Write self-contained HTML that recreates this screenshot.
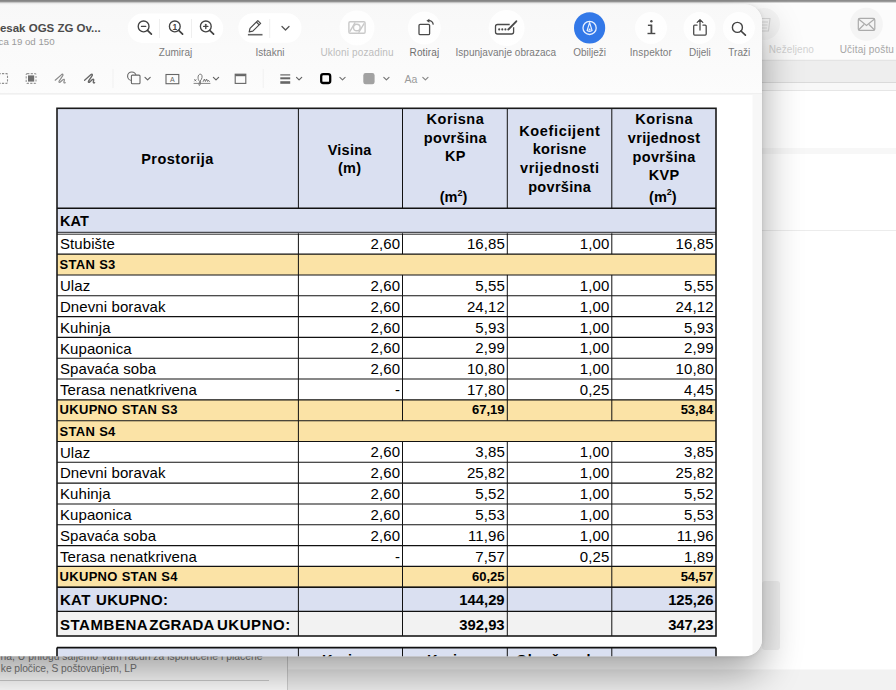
<!DOCTYPE html>
<html><head><meta charset="utf-8"><title>Preview</title>
<style>html,body{margin:0;padding:0;width:896px;height:690px;overflow:hidden;background:#fbfbfb}
svg{display:block} text{font-family:"Liberation Sans",Arial,sans-serif}</style></head>
<body><svg width="896" height="690" viewBox="0 0 896 690" font-family="Liberation Sans, Arial, sans-serif">
<rect x="0" y="0" width="896" height="690" fill="#ffffff"/>
<rect x="700" y="0" width="196" height="60" fill="#fcfcfc"/>
<rect x="700" y="60" width="196" height="22.5" fill="#eeeeee"/>
<line x1="700" y1="60.3" x2="896" y2="60.3" stroke="#e2e2e2" stroke-width="1"/>
<line x1="700" y1="82.5" x2="896" y2="82.5" stroke="#dadada" stroke-width="1"/>
<rect x="700" y="83" width="196" height="7.5" fill="#f8f8f8"/>
<line x1="700" y1="90.5" x2="896" y2="90.5" stroke="#e6e6e6" stroke-width="1"/>
<rect x="700" y="148" width="196" height="6" fill="#f7f7f7"/>
<line x1="700" y1="230.5" x2="896" y2="230.5" stroke="#ececec" stroke-width="1"/>
<circle cx="866.4" cy="24.3" r="16.5" fill="#f4f4f4"/>
<g fill="none" stroke="#ababab" stroke-width="1.2"><rect x="858.3" y="18.4" width="16.5" height="12" rx="1.5"/><path d="M858.5,19 L866.5,25.5 L874.5,19 M858.5,30 L864,24.5 M874.5,30 L869,24.5"/></g>
<text x="866.80" y="53.00" font-size="10" fill="#a6a6a6" text-anchor="middle" textLength="54.20" lengthAdjust="spacing">Učitaj poštu</text>
<text x="791.30" y="53.00" font-size="10" fill="#d2d2d2" text-anchor="middle" textLength="45.20" lengthAdjust="spacing">Neželjeno</text>
<circle cx="764" cy="24" r="16" fill="#f5f5f5"/>
<g fill="none" stroke="#d6d6d6" stroke-width="1.1"><path d="M758,18.5 L770,18.5 L768.5,31 L759.5,31 Z"/><path d="M760,22 L768,22 M760.5,25 L767.5,25 M761,28 L767,28"/></g>
<rect x="0" y="640" width="896" height="50" fill="#ffffff"/>
<rect x="288" y="669.5" width="608" height="20.5" fill="#f2f2f2"/>
<rect x="762" y="581" width="18" height="69" rx="3" fill="#f1f1f1"/>
<text x="0.50" y="660.00" font-size="10.3" fill="#7c7c7c" textLength="262.00" lengthAdjust="spacing">na, U prilogu šaljemo Vam račun za isporučene i plaćene</text>
<text x="0.80" y="672.20" font-size="10.3" fill="#7c7c7c" textLength="136.00" lengthAdjust="spacing">ke pločice, S poštovanjem, LP</text>
<line x1="0" y1="680.5" x2="269" y2="680.5" stroke="#cfcfcf" stroke-width="1"/>
<line x1="287.5" y1="640" x2="287.5" y2="690" stroke="#d2d2d2" stroke-width="1"/>
<rect x="0" y="0" width="896" height="1.9" fill="#8c8c8c"/>
<rect x="0" y="1.9" width="896" height="0.8" fill="#c4c4c4"/>
<defs><filter id="sh" x="-20%" y="-20%" width="140%" height="160%"><feGaussianBlur stdDeviation="20"/></filter><filter id="sh2" x="-20%" y="-20%" width="140%" height="160%"><feGaussianBlur stdDeviation="2"/></filter><clipPath id="wclip"><path d="M-40,4.5 L745.0,4.5 A17.0,17.0 0 0 1 762.0,21.5 L762.0,639.2 A17.0,17.0 0 0 1 745.0,656.2 L-40,656.2 Z"/></clipPath><linearGradient id="tbg" x1="0" x2="0" y1="0" y2="1"><stop offset="0" stop-color="#f8f8f8"/><stop offset="0.5" stop-color="#fafafa"/><stop offset="1" stop-color="#fcfcfc"/></linearGradient></defs>
<path d="M-40,4.5 L745.0,4.5 A17.0,17.0 0 0 1 762.0,21.5 L762.0,639.2 A17.0,17.0 0 0 1 745.0,656.2 L-40,656.2 Z" fill="#000" opacity="0.36" filter="url(#sh)" transform="translate(0,18)"/>
<path d="M-40,4.5 L745.0,4.5 A17.0,17.0 0 0 1 762.0,21.5 L762.0,639.2 A17.0,17.0 0 0 1 745.0,656.2 L-40,656.2 Z" fill="#000" opacity="0.10" filter="url(#sh2)" transform="translate(0,0.5)"/>
<path d="M-40,4.5 L745.0,4.5 A17.0,17.0 0 0 1 762.0,21.5 L762.0,639.2 A17.0,17.0 0 0 1 745.0,656.2 L-40,656.2 Z" fill="#fff"/>
<g clip-path="url(#wclip)">
<rect x="-40" y="0" width="810" height="93.5" fill="url(#tbg)"/>
<line x1="-40" y1="93.8" x2="770" y2="93.8" stroke="#ebebeb" stroke-width="1.2"/>
<rect x="752.5" y="94.4" width="12" height="570" fill="#f7f7f7"/>
<text x="100.70" y="31.80" font-size="11.5" font-weight="bold" fill="#4b4b4b" text-anchor="end">esak OGS ZG Ov...</text>
<text x="54.60" y="44.60" font-size="9.7" fill="#9b9b9b" text-anchor="end">ca 19 od 150</text>
<rect x="127.8" y="13.6" width="95.39999999999999" height="29.299999999999997" rx="14.649999999999999" fill="#fff"/>
<g stroke="#efefef" stroke-width="1"><line x1="159.5" y1="19" x2="159.5" y2="38"/><line x1="191.5" y1="19" x2="191.5" y2="38"/></g>
<g fill="none" stroke="#444" stroke-width="1.35" stroke-linecap="round"><circle cx="143.6" cy="26.4" r="5.4"/><line x1="147.5" y1="30.3" x2="151.4" y2="34.2" stroke-width="1.7"/><circle cx="174.8" cy="26.4" r="5.4"/><line x1="178.7" y1="30.3" x2="182.6" y2="34.2" stroke-width="1.7"/><circle cx="205.8" cy="26.4" r="5.4"/><line x1="209.7" y1="30.3" x2="213.6" y2="34.2" stroke-width="1.7"/><line x1="141.5" y1="26.4" x2="145.7" y2="26.4"/><line x1="203.7" y1="26.4" x2="207.9" y2="26.4"/><line x1="205.8" y1="24.3" x2="205.8" y2="28.5"/></g>
<text x="174.80" y="29.70" font-size="8.5" font-weight="bold" fill="#444" text-anchor="middle">1</text>
<text x="175.50" y="56.00" font-size="10" fill="#7b7b7b" text-anchor="middle">Zumiraj</text>
<rect x="238.3" y="13.3" width="63.19999999999999" height="29.400000000000002" rx="14.700000000000001" fill="#fff"/>
<line x1="269.7" y1="19" x2="269.7" y2="38" stroke="#efefef" stroke-width="1"/>
<g fill="none" stroke="#4a4a4a" stroke-width="1.2" stroke-linejoin="round"><path d="M249.2,31.8 L250,28.4 L257.8,20.6 L260.6,23.4 L252.8,31.2 Z M256.4,22 L259.2,24.8"/></g>
<rect x="247.9" y="33.9" width="14.6" height="1.6" fill="#666"/>
<path d="M282,26.5 L285.5,30 L289,26.5" fill="none" stroke="#555" stroke-width="1.3" stroke-linecap="round" stroke-linejoin="round"/>
<text x="270.00" y="56.00" font-size="10" fill="#7b7b7b" text-anchor="middle">Istakni</text>
<circle cx="357.0" cy="28" r="17.5" fill="#fff" opacity="0.85"/>
<circle cx="424.3" cy="28" r="16.5" fill="#fff" opacity="0.85"/>
<circle cx="506.6" cy="28" r="18.0" fill="#fff" opacity="0.85"/>
<circle cx="651.0" cy="28" r="16.0" fill="#fff" opacity="0.85"/>
<circle cx="699.5" cy="28" r="16.0" fill="#fff" opacity="0.85"/>
<circle cx="738.9" cy="28" r="16.0" fill="#fff" opacity="0.85"/>
<g fill="none" stroke="#c9c9c9" stroke-width="1.4"><rect x="348.9" y="21.7" width="16.2" height="11.5" rx="1.2"/><circle cx="356.8" cy="27.5" r="3.3"/><path d="M349.8,31.6 L355.2,22.4 M358.6,32.6 L364.2,23.4"/></g>
<text x="357.00" y="56.00" font-size="10" fill="#bdbdbd" text-anchor="middle" textLength="73.20" lengthAdjust="spacing">Ukloni pozadinu</text>
<g fill="none" stroke="#4a4a4a" stroke-width="1.3" stroke-linejoin="round"><rect x="419" y="24.3" width="10.6" height="10.4" rx="1.2"/><path d="M428.6,20.7 C430.9,20.5 432.8,22.1 433.3,24.7"/></g>
<path d="M426.4,20.7 L429.4,18.7 L429.4,22.7 Z" fill="#4a4a4a"/>
<text x="424.40" y="56.00" font-size="10" fill="#6f6f6f" text-anchor="middle" textLength="29.60" lengthAdjust="spacing">Rotiraj</text>
<g fill="none" stroke="#4a4a4a" stroke-width="1.3" stroke-linejoin="round"><path d="M509.7,24.5 L497.6,24.5 Q495.5,24.5 495.5,26.6 L495.5,31.9 Q495.5,34 497.6,34 L511.5,34 Q513.6,34 513.6,31.9 L513.6,27.3"/><path d="M508.3,29.5 L516.3,21.3" stroke-width="1.9" stroke-linecap="round"/></g>
<g fill="#4a4a4a"><circle cx="499.2" cy="29.4" r="1.05"/><circle cx="502.3" cy="29.4" r="1.05"/><circle cx="505.4" cy="29.4" r="1.05"/></g>
<text x="505.80" y="56.00" font-size="10" fill="#7b7b7b" text-anchor="middle" textLength="100.70" lengthAdjust="spacing">Ispunjavanje obrazaca</text>
<circle cx="589.6" cy="27.9" r="15.6" fill="#3278e8"/>
<circle cx="589.6" cy="27.9" r="6.6" fill="none" stroke="#e8f0ff" stroke-width="1.3"/>
<path d="M589.6,22.6 L592.1,30.6 Q589.6,32.2 587.1,30.6 Z" fill="none" stroke="#e8f0ff" stroke-width="1.2" stroke-linejoin="round"/>
<circle cx="589.6" cy="29.6" r="1.0" fill="#e8f0ff"/>
<text x="589.60" y="56.00" font-size="10" fill="#7b7b7b" text-anchor="middle">Obilježi</text>
<g fill="#4a4a4a"><circle cx="651.4" cy="21.3" r="1.2"/><rect x="650.5" y="24.6" width="1.8" height="9.4"/><rect x="647.9" y="24.6" width="3.6" height="1.4"/><rect x="647.5" y="32.8" width="7.8" height="1.4"/></g>
<text x="650.80" y="56.00" font-size="10" fill="#7b7b7b" text-anchor="middle" textLength="42.20" lengthAdjust="spacing">Inspektor</text>
<g fill="none" stroke="#4a4a4a" stroke-width="1.3" stroke-linecap="round" stroke-linejoin="round"><path d="M697,25.2 L694.6,25.2 Q693.7,25.2 693.7,26.2 L693.7,34.1 Q693.7,35.1 694.7,35.1 L705.2,35.1 Q706.2,35.1 706.2,34.1 L706.2,26.2 Q706.2,25.2 705.2,25.2 L703,25.2"/><path d="M700,30 L700,19.6 M697.2,22.4 L700,19.6 L702.8,22.4"/></g>
<text x="699.90" y="56.00" font-size="10" fill="#7b7b7b" text-anchor="middle">Dijeli</text>
<g fill="none" stroke="#444" stroke-width="1.4" stroke-linecap="round"><circle cx="737.4" cy="27.4" r="5.0"/><line x1="741" y1="31" x2="745.4" y2="35.2" stroke-width="1.7"/></g>
<text x="739.30" y="56.00" font-size="10" fill="#7b7b7b" text-anchor="middle">Traži</text>
<rect x="-2.5" y="73.6" width="10" height="9.8" rx="1" fill="none" stroke="#8e8e8e" stroke-width="1.1" stroke-dasharray="2.2,1.3"/>
<rect x="26.2" y="73.6" width="9.8" height="9.8" rx="1" fill="none" stroke="#999" stroke-width="1.1" stroke-dasharray="2.2,1.3"/>
<rect x="28" y="75.4" width="6.2" height="6.2" fill="#6e6e6e"/>
<path d="M55.2,80.2 L61.6,74.6 C62.9,73.6 63.6,74.6 62.3,76.4 L59.2,81 C58.4,82.4 59.6,82.9 60.6,81.8 L63.0,79.6 C63.9,78.9 64.6,79.4 64.3,80.4 L63.9,82 C63.8,83 64.6,83.3 65.2,82.6" fill="none" stroke="#8a8a8a" stroke-width="1.2" stroke-linecap="round" stroke-linejoin="round"/>
<path d="M84.6,80.2 L91.0,74.6 C92.3,73.6 93.0,74.6 91.7,76.4 L88.6,81 C87.8,82.4 89.0,82.9 90.0,81.8 L92.4,79.6 C93.3,78.9 94.0,79.4 93.7,80.4 L93.3,82 C93.2,83 94.0,83.3 94.6,82.6" fill="none" stroke="#686868" stroke-width="1.35" stroke-linecap="round" stroke-linejoin="round"/>
<line x1="113" y1="69" x2="113" y2="88" stroke="#f1f1f1" stroke-width="1"/>
<g fill="none" stroke="#666" stroke-width="1.1"><circle cx="131.8" cy="76.2" r="4.2"/></g>
<rect x="131.4" y="75.1" width="8.6" height="8.6" rx="1" fill="#fbfbfb" stroke="#666" stroke-width="1.1"/>
<path d="M145,77.3 L147.6,79.89999999999999 L150.2,77.3" fill="none" stroke="#666" stroke-width="1.2" stroke-linecap="round" stroke-linejoin="round"/>
<rect x="166" y="74.5" width="12.8" height="9.2" fill="none" stroke="#666" stroke-width="1.1"/>
<text x="172.40" y="82.00" font-size="7" fill="#666" text-anchor="middle">A</text>
<g fill="none" stroke="#6a6a6a" stroke-width="0.9" stroke-linecap="round"><path d="M194.6,79.6 L196,81 M196,79.6 L194.6,81"/><path d="M199.4,81.2 C197.2,79.5 197.6,74.2 200.3,74.2 C202.8,74.2 202.6,78.6 200.2,81 C199.2,82.3 198.6,84.5 199.2,85.4 C199.9,86 200.6,83.5 200.6,81.5"/><path d="M203.2,81.5 L204.4,79 L205.4,81.5 L206.6,79 L207.6,81.5 L208.4,80.2 L209.4,81.5"/></g>
<line x1="193.6" y1="83.4" x2="210.4" y2="83.4" stroke="#777" stroke-width="0.9"/>
<path d="M213.4,77.3 L216.0,79.89999999999999 L218.6,77.3" fill="none" stroke="#666" stroke-width="1.2" stroke-linecap="round" stroke-linejoin="round"/>
<rect x="235.2" y="74.2" width="10.6" height="9.2" fill="none" stroke="#666" stroke-width="1.1"/>
<rect x="235.2" y="74.2" width="10.6" height="2" fill="#666"/>
<line x1="263.2" y1="69" x2="263.2" y2="88" stroke="#f1f1f1" stroke-width="1"/>
<rect x="280.3" y="74.3" width="9.9" height="1.2" fill="#666"/>
<rect x="280.3" y="77.3" width="9.9" height="2" fill="#666"/>
<rect x="280.3" y="81.2" width="9.9" height="2.6" fill="#666"/>
<path d="M296.5,77.3 L299.1,79.89999999999999 L301.7,77.3" fill="none" stroke="#666" stroke-width="1.2" stroke-linecap="round" stroke-linejoin="round"/>
<rect x="321.2" y="74.2" width="9" height="8.8" rx="2" fill="none" stroke="#000" stroke-width="2.3"/>
<path d="M339.9,77.3 L342.5,79.89999999999999 L345.09999999999997,77.3" fill="none" stroke="#777" stroke-width="1.2" stroke-linecap="round" stroke-linejoin="round"/>
<rect x="363.3" y="73.1" width="11.3" height="11.2" rx="2.3" fill="#a2a2a2"/>
<path d="M383.8,77.3 L386.40000000000003,79.89999999999999 L389.0,77.3" fill="none" stroke="#777" stroke-width="1.2" stroke-linecap="round" stroke-linejoin="round"/>
<text x="404.50" y="83.00" font-size="10.5" fill="#9a9a9a">Aa</text>
<path d="M422.8,77.3 L425.40000000000003,79.89999999999999 L428.0,77.3" fill="none" stroke="#888" stroke-width="1.2" stroke-linecap="round" stroke-linejoin="round"/>
</g>
<g clip-path="url(#wclip)">
<rect x="57.0" y="108.3" width="659.0" height="125.00000000000001" fill="#dae0f1"/>
<rect x="57.0" y="233.30" width="659.0" height="20.82" fill="#fff"/>
<rect x="57.0" y="254.12" width="659.0" height="20.82" fill="#fbe3a6"/>
<rect x="57.0" y="274.94" width="659.0" height="20.82" fill="#fff"/>
<rect x="57.0" y="295.76" width="659.0" height="20.82" fill="#fff"/>
<rect x="57.0" y="316.58" width="659.0" height="20.82" fill="#fff"/>
<rect x="57.0" y="337.40" width="659.0" height="20.82" fill="#fff"/>
<rect x="57.0" y="358.22" width="659.0" height="20.82" fill="#fff"/>
<rect x="57.0" y="379.04" width="659.0" height="20.82" fill="#fff"/>
<rect x="57.0" y="399.86" width="659.0" height="20.82" fill="#fbe3a6"/>
<rect x="57.0" y="420.68" width="659.0" height="20.82" fill="#fbe3a6"/>
<rect x="57.0" y="441.50" width="659.0" height="20.82" fill="#fff"/>
<rect x="57.0" y="462.32" width="659.0" height="20.82" fill="#fff"/>
<rect x="57.0" y="483.14" width="659.0" height="20.82" fill="#fff"/>
<rect x="57.0" y="503.96" width="659.0" height="20.82" fill="#fff"/>
<rect x="57.0" y="524.78" width="659.0" height="20.82" fill="#fff"/>
<rect x="57.0" y="545.60" width="659.0" height="20.82" fill="#fff"/>
<rect x="57.0" y="566.42" width="659.0" height="20.82" fill="#fbe3a6"/>
<rect x="57.0" y="587.24" width="659.0" height="24.16" fill="#dae0f1"/>
<rect x="57.0" y="611.40" width="659.0" height="24.60" fill="#f2f2f2"/>
<line x1="57.0" y1="208.30" x2="716.0" y2="208.30" stroke="#111" stroke-width="1.6"/>
<line x1="57.0" y1="232.30" x2="716.0" y2="232.30" stroke="#111" stroke-width="0.9"/>
<line x1="57.0" y1="234.20" x2="716.0" y2="234.20" stroke="#111" stroke-width="0.9"/>
<line x1="57.0" y1="254.12" x2="716.0" y2="254.12" stroke="#111" stroke-width="1.1"/>
<line x1="57.0" y1="274.94" x2="716.0" y2="274.94" stroke="#111" stroke-width="1.1"/>
<line x1="57.0" y1="295.76" x2="716.0" y2="295.76" stroke="#111" stroke-width="1.1"/>
<line x1="57.0" y1="316.58" x2="716.0" y2="316.58" stroke="#111" stroke-width="1.1"/>
<line x1="57.0" y1="337.40" x2="716.0" y2="337.40" stroke="#111" stroke-width="1.1"/>
<line x1="57.0" y1="358.22" x2="716.0" y2="358.22" stroke="#111" stroke-width="1.1"/>
<line x1="57.0" y1="379.04" x2="716.0" y2="379.04" stroke="#111" stroke-width="1.1"/>
<line x1="57.0" y1="399.86" x2="716.0" y2="399.86" stroke="#111" stroke-width="1.1"/>
<line x1="57.0" y1="420.68" x2="716.0" y2="420.68" stroke="#111" stroke-width="1.1"/>
<line x1="57.0" y1="441.50" x2="716.0" y2="441.50" stroke="#111" stroke-width="1.1"/>
<line x1="57.0" y1="462.32" x2="716.0" y2="462.32" stroke="#111" stroke-width="1.1"/>
<line x1="57.0" y1="483.14" x2="716.0" y2="483.14" stroke="#111" stroke-width="1.1"/>
<line x1="57.0" y1="503.96" x2="716.0" y2="503.96" stroke="#111" stroke-width="1.1"/>
<line x1="57.0" y1="524.78" x2="716.0" y2="524.78" stroke="#111" stroke-width="1.1"/>
<line x1="57.0" y1="545.60" x2="716.0" y2="545.60" stroke="#111" stroke-width="1.1"/>
<line x1="57.0" y1="566.42" x2="716.0" y2="566.42" stroke="#111" stroke-width="1.1"/>
<line x1="57.0" y1="587.24" x2="716.0" y2="587.24" stroke="#111" stroke-width="1.1"/>
<line x1="57.0" y1="587.24" x2="716.0" y2="587.24" stroke="#111" stroke-width="1.3"/>
<line x1="57.0" y1="611.40" x2="716.0" y2="611.40" stroke="#111" stroke-width="1.3"/>
<line x1="298.40" y1="108.30" x2="298.40" y2="208.30" stroke="#111" stroke-width="1.0"/>
<line x1="402.50" y1="108.30" x2="402.50" y2="208.30" stroke="#111" stroke-width="1.0"/>
<line x1="507.30" y1="108.30" x2="507.30" y2="208.30" stroke="#111" stroke-width="1.0"/>
<line x1="611.80" y1="108.30" x2="611.80" y2="208.30" stroke="#111" stroke-width="1.0"/>
<line x1="298.40" y1="233.30" x2="298.40" y2="254.12" stroke="#111" stroke-width="1.0"/>
<line x1="402.50" y1="233.30" x2="402.50" y2="254.12" stroke="#111" stroke-width="1.0"/>
<line x1="507.30" y1="233.30" x2="507.30" y2="254.12" stroke="#111" stroke-width="1.0"/>
<line x1="611.80" y1="233.30" x2="611.80" y2="254.12" stroke="#111" stroke-width="1.0"/>
<line x1="298.40" y1="254.12" x2="298.40" y2="274.94" stroke="#111" stroke-width="1.0"/>
<line x1="298.40" y1="274.94" x2="298.40" y2="295.76" stroke="#111" stroke-width="1.0"/>
<line x1="402.50" y1="274.94" x2="402.50" y2="295.76" stroke="#111" stroke-width="1.0"/>
<line x1="507.30" y1="274.94" x2="507.30" y2="295.76" stroke="#111" stroke-width="1.0"/>
<line x1="611.80" y1="274.94" x2="611.80" y2="295.76" stroke="#111" stroke-width="1.0"/>
<line x1="298.40" y1="295.76" x2="298.40" y2="316.58" stroke="#111" stroke-width="1.0"/>
<line x1="402.50" y1="295.76" x2="402.50" y2="316.58" stroke="#111" stroke-width="1.0"/>
<line x1="507.30" y1="295.76" x2="507.30" y2="316.58" stroke="#111" stroke-width="1.0"/>
<line x1="611.80" y1="295.76" x2="611.80" y2="316.58" stroke="#111" stroke-width="1.0"/>
<line x1="298.40" y1="316.58" x2="298.40" y2="337.40" stroke="#111" stroke-width="1.0"/>
<line x1="402.50" y1="316.58" x2="402.50" y2="337.40" stroke="#111" stroke-width="1.0"/>
<line x1="507.30" y1="316.58" x2="507.30" y2="337.40" stroke="#111" stroke-width="1.0"/>
<line x1="611.80" y1="316.58" x2="611.80" y2="337.40" stroke="#111" stroke-width="1.0"/>
<line x1="298.40" y1="337.40" x2="298.40" y2="358.22" stroke="#111" stroke-width="1.0"/>
<line x1="402.50" y1="337.40" x2="402.50" y2="358.22" stroke="#111" stroke-width="1.0"/>
<line x1="507.30" y1="337.40" x2="507.30" y2="358.22" stroke="#111" stroke-width="1.0"/>
<line x1="611.80" y1="337.40" x2="611.80" y2="358.22" stroke="#111" stroke-width="1.0"/>
<line x1="298.40" y1="358.22" x2="298.40" y2="379.04" stroke="#111" stroke-width="1.0"/>
<line x1="402.50" y1="358.22" x2="402.50" y2="379.04" stroke="#111" stroke-width="1.0"/>
<line x1="507.30" y1="358.22" x2="507.30" y2="379.04" stroke="#111" stroke-width="1.0"/>
<line x1="611.80" y1="358.22" x2="611.80" y2="379.04" stroke="#111" stroke-width="1.0"/>
<line x1="298.40" y1="379.04" x2="298.40" y2="399.86" stroke="#111" stroke-width="1.0"/>
<line x1="402.50" y1="379.04" x2="402.50" y2="399.86" stroke="#111" stroke-width="1.0"/>
<line x1="507.30" y1="379.04" x2="507.30" y2="399.86" stroke="#111" stroke-width="1.0"/>
<line x1="611.80" y1="379.04" x2="611.80" y2="399.86" stroke="#111" stroke-width="1.0"/>
<line x1="298.40" y1="399.86" x2="298.40" y2="420.68" stroke="#111" stroke-width="1.0"/>
<line x1="402.50" y1="399.86" x2="402.50" y2="420.68" stroke="#111" stroke-width="1.0"/>
<line x1="507.30" y1="399.86" x2="507.30" y2="420.68" stroke="#111" stroke-width="1.0"/>
<line x1="611.80" y1="399.86" x2="611.80" y2="420.68" stroke="#111" stroke-width="1.0"/>
<line x1="298.40" y1="420.68" x2="298.40" y2="441.50" stroke="#111" stroke-width="1.0"/>
<line x1="298.40" y1="441.50" x2="298.40" y2="462.32" stroke="#111" stroke-width="1.0"/>
<line x1="402.50" y1="441.50" x2="402.50" y2="462.32" stroke="#111" stroke-width="1.0"/>
<line x1="507.30" y1="441.50" x2="507.30" y2="462.32" stroke="#111" stroke-width="1.0"/>
<line x1="611.80" y1="441.50" x2="611.80" y2="462.32" stroke="#111" stroke-width="1.0"/>
<line x1="298.40" y1="462.32" x2="298.40" y2="483.14" stroke="#111" stroke-width="1.0"/>
<line x1="402.50" y1="462.32" x2="402.50" y2="483.14" stroke="#111" stroke-width="1.0"/>
<line x1="507.30" y1="462.32" x2="507.30" y2="483.14" stroke="#111" stroke-width="1.0"/>
<line x1="611.80" y1="462.32" x2="611.80" y2="483.14" stroke="#111" stroke-width="1.0"/>
<line x1="298.40" y1="483.14" x2="298.40" y2="503.96" stroke="#111" stroke-width="1.0"/>
<line x1="402.50" y1="483.14" x2="402.50" y2="503.96" stroke="#111" stroke-width="1.0"/>
<line x1="507.30" y1="483.14" x2="507.30" y2="503.96" stroke="#111" stroke-width="1.0"/>
<line x1="611.80" y1="483.14" x2="611.80" y2="503.96" stroke="#111" stroke-width="1.0"/>
<line x1="298.40" y1="503.96" x2="298.40" y2="524.78" stroke="#111" stroke-width="1.0"/>
<line x1="402.50" y1="503.96" x2="402.50" y2="524.78" stroke="#111" stroke-width="1.0"/>
<line x1="507.30" y1="503.96" x2="507.30" y2="524.78" stroke="#111" stroke-width="1.0"/>
<line x1="611.80" y1="503.96" x2="611.80" y2="524.78" stroke="#111" stroke-width="1.0"/>
<line x1="298.40" y1="524.78" x2="298.40" y2="545.60" stroke="#111" stroke-width="1.0"/>
<line x1="402.50" y1="524.78" x2="402.50" y2="545.60" stroke="#111" stroke-width="1.0"/>
<line x1="507.30" y1="524.78" x2="507.30" y2="545.60" stroke="#111" stroke-width="1.0"/>
<line x1="611.80" y1="524.78" x2="611.80" y2="545.60" stroke="#111" stroke-width="1.0"/>
<line x1="298.40" y1="545.60" x2="298.40" y2="566.42" stroke="#111" stroke-width="1.0"/>
<line x1="402.50" y1="545.60" x2="402.50" y2="566.42" stroke="#111" stroke-width="1.0"/>
<line x1="507.30" y1="545.60" x2="507.30" y2="566.42" stroke="#111" stroke-width="1.0"/>
<line x1="611.80" y1="545.60" x2="611.80" y2="566.42" stroke="#111" stroke-width="1.0"/>
<line x1="298.40" y1="566.42" x2="298.40" y2="587.24" stroke="#111" stroke-width="1.0"/>
<line x1="402.50" y1="566.42" x2="402.50" y2="587.24" stroke="#111" stroke-width="1.0"/>
<line x1="507.30" y1="566.42" x2="507.30" y2="587.24" stroke="#111" stroke-width="1.0"/>
<line x1="611.80" y1="566.42" x2="611.80" y2="587.24" stroke="#111" stroke-width="1.0"/>
<line x1="298.40" y1="587.24" x2="298.40" y2="636.00" stroke="#111" stroke-width="1.0"/>
<line x1="402.50" y1="587.24" x2="402.50" y2="636.00" stroke="#111" stroke-width="1.0"/>
<line x1="507.30" y1="587.24" x2="507.30" y2="636.00" stroke="#111" stroke-width="1.0"/>
<line x1="611.80" y1="587.24" x2="611.80" y2="636.00" stroke="#111" stroke-width="1.0"/>
<rect x="57.0" y="108.3" width="659.0" height="527.7" fill="none" stroke="#1a1a1a" stroke-width="1.6"/>
<text x="177.20" y="164.30" font-size="14.5" font-weight="bold" text-anchor="middle" textLength="72.10" lengthAdjust="spacing">Prostorija</text>
<text x="349.50" y="154.80" font-size="14.5" font-weight="bold" text-anchor="middle" textLength="43.70" lengthAdjust="spacing">Visina</text>
<text x="349.50" y="173.20" font-size="14.5" font-weight="bold" text-anchor="middle" textLength="23.21" lengthAdjust="spacing">(m)</text>
<text x="455.20" y="124.00" font-size="14.5" font-weight="bold" text-anchor="middle" textLength="57.30" lengthAdjust="spacing">Korisna</text>
<text x="455.20" y="142.70" font-size="14.5" font-weight="bold" text-anchor="middle" textLength="62.75" lengthAdjust="spacing">površina</text>
<text x="455.20" y="161.30" font-size="14.5" font-weight="bold" text-anchor="middle" textLength="20.47" lengthAdjust="spacing">KP</text>
<text x="439.67" y="202.40" font-size="14.5" font-weight="bold">(m<tspan font-size="9" dy="-6.5">2</tspan><tspan dy="6.5">)</tspan></text>
<text x="559.50" y="135.50" font-size="14.5" font-weight="bold" text-anchor="middle" textLength="80.70" lengthAdjust="spacing">Koeficijent</text>
<text x="559.50" y="154.20" font-size="14.5" font-weight="bold" text-anchor="middle" textLength="53.56" lengthAdjust="spacing">korisne</text>
<text x="559.50" y="173.40" font-size="14.5" font-weight="bold" text-anchor="middle" textLength="79.00" lengthAdjust="spacing">vrijednosti</text>
<text x="559.50" y="191.90" font-size="14.5" font-weight="bold" text-anchor="middle" textLength="62.75" lengthAdjust="spacing">površina</text>
<text x="663.90" y="123.70" font-size="14.5" font-weight="bold" text-anchor="middle" textLength="57.30" lengthAdjust="spacing">Korisna</text>
<text x="663.90" y="142.70" font-size="14.5" font-weight="bold" text-anchor="middle" textLength="72.26" lengthAdjust="spacing">vrijednost</text>
<text x="663.90" y="161.80" font-size="14.5" font-weight="bold" text-anchor="middle" textLength="62.75" lengthAdjust="spacing">površina</text>
<text x="663.90" y="180.30" font-size="14.5" font-weight="bold" text-anchor="middle" textLength="30.47" lengthAdjust="spacing">KVP</text>
<text x="649.07" y="201.80" font-size="14.5" font-weight="bold">(m<tspan font-size="9" dy="-6.5">2</tspan><tspan dy="6.5">)</tspan></text>
<text x="60.10" y="226.20" font-size="14.5" font-weight="bold" textLength="28.80" lengthAdjust="spacing">KAT</text>
<text x="59.90" y="249.42" font-size="15" textLength="54.90" lengthAdjust="spacing">Stubište</text>
<text x="400.10" y="249.22" font-size="15" text-anchor="end" textLength="29.55" lengthAdjust="spacing">2,60</text>
<text x="504.90" y="249.22" font-size="15" text-anchor="end" textLength="38.02" lengthAdjust="spacing">16,85</text>
<text x="609.40" y="249.22" font-size="15" text-anchor="end" textLength="29.55" lengthAdjust="spacing">1,00</text>
<text x="713.60" y="249.22" font-size="15" text-anchor="end" textLength="38.02" lengthAdjust="spacing">16,85</text>
<text x="59.60" y="269.34" font-size="13" font-weight="bold" textLength="55.74" lengthAdjust="spacing">STAN S3</text>
<text x="59.90" y="291.06" font-size="15" textLength="30.31" lengthAdjust="spacing">Ulaz</text>
<text x="400.10" y="290.86" font-size="15" text-anchor="end" textLength="29.55" lengthAdjust="spacing">2,60</text>
<text x="504.90" y="290.86" font-size="15" text-anchor="end" textLength="29.55" lengthAdjust="spacing">5,55</text>
<text x="609.40" y="290.86" font-size="15" text-anchor="end" textLength="29.55" lengthAdjust="spacing">1,00</text>
<text x="713.60" y="290.86" font-size="15" text-anchor="end" textLength="29.55" lengthAdjust="spacing">5,55</text>
<text x="59.90" y="311.88" font-size="15" textLength="105.52" lengthAdjust="spacing">Dnevni boravak</text>
<text x="400.10" y="311.68" font-size="15" text-anchor="end" textLength="29.55" lengthAdjust="spacing">2,60</text>
<text x="504.90" y="311.68" font-size="15" text-anchor="end" textLength="38.02" lengthAdjust="spacing">24,12</text>
<text x="609.40" y="311.68" font-size="15" text-anchor="end" textLength="29.55" lengthAdjust="spacing">1,00</text>
<text x="713.60" y="311.68" font-size="15" text-anchor="end" textLength="38.02" lengthAdjust="spacing">24,12</text>
<text x="59.90" y="332.70" font-size="15" textLength="50.64" lengthAdjust="spacing">Kuhinja</text>
<text x="400.10" y="332.50" font-size="15" text-anchor="end" textLength="29.55" lengthAdjust="spacing">2,60</text>
<text x="504.90" y="332.50" font-size="15" text-anchor="end" textLength="29.55" lengthAdjust="spacing">5,93</text>
<text x="609.40" y="332.50" font-size="15" text-anchor="end" textLength="29.55" lengthAdjust="spacing">1,00</text>
<text x="713.60" y="332.50" font-size="15" text-anchor="end" textLength="29.55" lengthAdjust="spacing">5,93</text>
<text x="59.90" y="353.52" font-size="15" textLength="71.69" lengthAdjust="spacing">Kupaonica</text>
<text x="400.10" y="353.32" font-size="15" text-anchor="end" textLength="29.55" lengthAdjust="spacing">2,60</text>
<text x="504.90" y="353.32" font-size="15" text-anchor="end" textLength="29.55" lengthAdjust="spacing">2,99</text>
<text x="609.40" y="353.32" font-size="15" text-anchor="end" textLength="29.55" lengthAdjust="spacing">1,00</text>
<text x="713.60" y="353.32" font-size="15" text-anchor="end" textLength="29.55" lengthAdjust="spacing">2,99</text>
<text x="59.90" y="374.34" font-size="15" textLength="96.17" lengthAdjust="spacing">Spavaća soba</text>
<text x="400.10" y="374.14" font-size="15" text-anchor="end" textLength="29.55" lengthAdjust="spacing">2,60</text>
<text x="504.90" y="374.14" font-size="15" text-anchor="end" textLength="38.02" lengthAdjust="spacing">10,80</text>
<text x="609.40" y="374.14" font-size="15" text-anchor="end" textLength="29.55" lengthAdjust="spacing">1,00</text>
<text x="713.60" y="374.14" font-size="15" text-anchor="end" textLength="38.02" lengthAdjust="spacing">10,80</text>
<text x="59.90" y="395.16" font-size="15" textLength="136.88" lengthAdjust="spacing">Terasa nenatkrivena</text>
<text x="400.10" y="394.96" font-size="15" text-anchor="end">-</text>
<text x="504.90" y="394.96" font-size="15" text-anchor="end" textLength="38.02" lengthAdjust="spacing">17,80</text>
<text x="609.40" y="394.96" font-size="15" text-anchor="end" textLength="29.55" lengthAdjust="spacing">0,25</text>
<text x="713.60" y="394.96" font-size="15" text-anchor="end" textLength="29.55" lengthAdjust="spacing">4,45</text>
<text x="59.60" y="414.48" font-size="13" font-weight="bold" textLength="117.78" lengthAdjust="spacing">UKUPNO STAN S3</text>
<text x="504.50" y="414.48" font-size="13" font-weight="bold" text-anchor="end">67,19</text>
<text x="713.20" y="414.48" font-size="13" font-weight="bold" text-anchor="end">53,84</text>
<text x="59.60" y="435.90" font-size="13" font-weight="bold" textLength="55.74" lengthAdjust="spacing">STAN S4</text>
<text x="59.90" y="457.62" font-size="15" textLength="30.31" lengthAdjust="spacing">Ulaz</text>
<text x="400.10" y="457.42" font-size="15" text-anchor="end" textLength="29.55" lengthAdjust="spacing">2,60</text>
<text x="504.90" y="457.42" font-size="15" text-anchor="end" textLength="29.55" lengthAdjust="spacing">3,85</text>
<text x="609.40" y="457.42" font-size="15" text-anchor="end" textLength="29.55" lengthAdjust="spacing">1,00</text>
<text x="713.60" y="457.42" font-size="15" text-anchor="end" textLength="29.55" lengthAdjust="spacing">3,85</text>
<text x="59.90" y="478.44" font-size="15" textLength="105.52" lengthAdjust="spacing">Dnevni boravak</text>
<text x="400.10" y="478.24" font-size="15" text-anchor="end" textLength="29.55" lengthAdjust="spacing">2,60</text>
<text x="504.90" y="478.24" font-size="15" text-anchor="end" textLength="38.02" lengthAdjust="spacing">25,82</text>
<text x="609.40" y="478.24" font-size="15" text-anchor="end" textLength="29.55" lengthAdjust="spacing">1,00</text>
<text x="713.60" y="478.24" font-size="15" text-anchor="end" textLength="38.02" lengthAdjust="spacing">25,82</text>
<text x="59.90" y="499.26" font-size="15" textLength="50.64" lengthAdjust="spacing">Kuhinja</text>
<text x="400.10" y="499.06" font-size="15" text-anchor="end" textLength="29.55" lengthAdjust="spacing">2,60</text>
<text x="504.90" y="499.06" font-size="15" text-anchor="end" textLength="29.55" lengthAdjust="spacing">5,52</text>
<text x="609.40" y="499.06" font-size="15" text-anchor="end" textLength="29.55" lengthAdjust="spacing">1,00</text>
<text x="713.60" y="499.06" font-size="15" text-anchor="end" textLength="29.55" lengthAdjust="spacing">5,52</text>
<text x="59.90" y="520.08" font-size="15" textLength="71.69" lengthAdjust="spacing">Kupaonica</text>
<text x="400.10" y="519.88" font-size="15" text-anchor="end" textLength="29.55" lengthAdjust="spacing">2,60</text>
<text x="504.90" y="519.88" font-size="15" text-anchor="end" textLength="29.55" lengthAdjust="spacing">5,53</text>
<text x="609.40" y="519.88" font-size="15" text-anchor="end" textLength="29.55" lengthAdjust="spacing">1,00</text>
<text x="713.60" y="519.88" font-size="15" text-anchor="end" textLength="29.55" lengthAdjust="spacing">5,53</text>
<text x="59.90" y="540.90" font-size="15" textLength="96.17" lengthAdjust="spacing">Spavaća soba</text>
<text x="400.10" y="540.70" font-size="15" text-anchor="end" textLength="29.55" lengthAdjust="spacing">2,60</text>
<text x="504.90" y="540.70" font-size="15" text-anchor="end" textLength="36.90" lengthAdjust="spacing">11,96</text>
<text x="609.40" y="540.70" font-size="15" text-anchor="end" textLength="29.55" lengthAdjust="spacing">1,00</text>
<text x="713.60" y="540.70" font-size="15" text-anchor="end" textLength="36.90" lengthAdjust="spacing">11,96</text>
<text x="59.90" y="561.72" font-size="15" textLength="136.88" lengthAdjust="spacing">Terasa nenatkrivena</text>
<text x="400.10" y="561.52" font-size="15" text-anchor="end">-</text>
<text x="504.90" y="561.52" font-size="15" text-anchor="end" textLength="29.55" lengthAdjust="spacing">7,57</text>
<text x="609.40" y="561.52" font-size="15" text-anchor="end" textLength="29.55" lengthAdjust="spacing">0,25</text>
<text x="713.60" y="561.52" font-size="15" text-anchor="end" textLength="29.55" lengthAdjust="spacing">1,89</text>
<text x="59.60" y="581.04" font-size="13" font-weight="bold" textLength="117.78" lengthAdjust="spacing">UKUPNO STAN S4</text>
<text x="504.50" y="581.04" font-size="13" font-weight="bold" text-anchor="end">60,25</text>
<text x="713.20" y="581.04" font-size="13" font-weight="bold" text-anchor="end">54,57</text>
<text x="59.90" y="605.20" font-size="15" font-weight="bold" textLength="30.40" lengthAdjust="spacing">KAT</text>
<text x="96.00" y="605.20" font-size="15" font-weight="bold" textLength="72.00" lengthAdjust="spacing">UKUPNO:</text>
<text x="59.90" y="629.70" font-size="15" font-weight="bold" textLength="87.80" lengthAdjust="spacing">STAMBENA</text>
<text x="149.30" y="629.70" font-size="15" font-weight="bold" textLength="65.10" lengthAdjust="spacing">ZGRADA</text>
<text x="216.90" y="629.70" font-size="15" font-weight="bold" textLength="73.40" lengthAdjust="spacing">UKUPNO:</text>
<text x="504.60" y="605.30" font-size="14.8" font-weight="bold" text-anchor="end">144,29</text>
<text x="713.40" y="605.30" font-size="14.8" font-weight="bold" text-anchor="end">125,26</text>
<text x="504.60" y="630.20" font-size="14.8" font-weight="bold" text-anchor="end">392,93</text>
<text x="713.40" y="630.20" font-size="14.8" font-weight="bold" text-anchor="end">347,23</text>
<rect x="57.0" y="647.6" width="659.0" height="20" fill="#dae0f1"/>
<line x1="57.0" y1="647.6" x2="716.0" y2="647.6" stroke="#111" stroke-width="1.6"/>
<line x1="298.40" y1="647.60" x2="298.40" y2="667.60" stroke="#111" stroke-width="1.0"/>
<line x1="402.50" y1="647.60" x2="402.50" y2="667.60" stroke="#111" stroke-width="1.0"/>
<line x1="507.30" y1="647.60" x2="507.30" y2="667.60" stroke="#111" stroke-width="1.0"/>
<line x1="611.80" y1="647.60" x2="611.80" y2="667.60" stroke="#111" stroke-width="1.0"/>
<line x1="57.00" y1="647.60" x2="57.00" y2="667.60" stroke="#111" stroke-width="1.6"/>
<line x1="716.00" y1="647.60" x2="716.00" y2="667.60" stroke="#111" stroke-width="1.6"/>
<text x="350.00" y="665.00" font-size="14.5" font-weight="bold" text-anchor="middle" textLength="55.97" lengthAdjust="spacing">Korisna</text>
<text x="455.00" y="665.00" font-size="14.5" font-weight="bold" text-anchor="middle" textLength="55.97" lengthAdjust="spacing">Korisna</text>
<text x="559.50" y="665.00" font-size="14.5" font-weight="bold" text-anchor="middle" textLength="86.78" lengthAdjust="spacing">Obračunska</text>
</g>
</svg></body></html>
